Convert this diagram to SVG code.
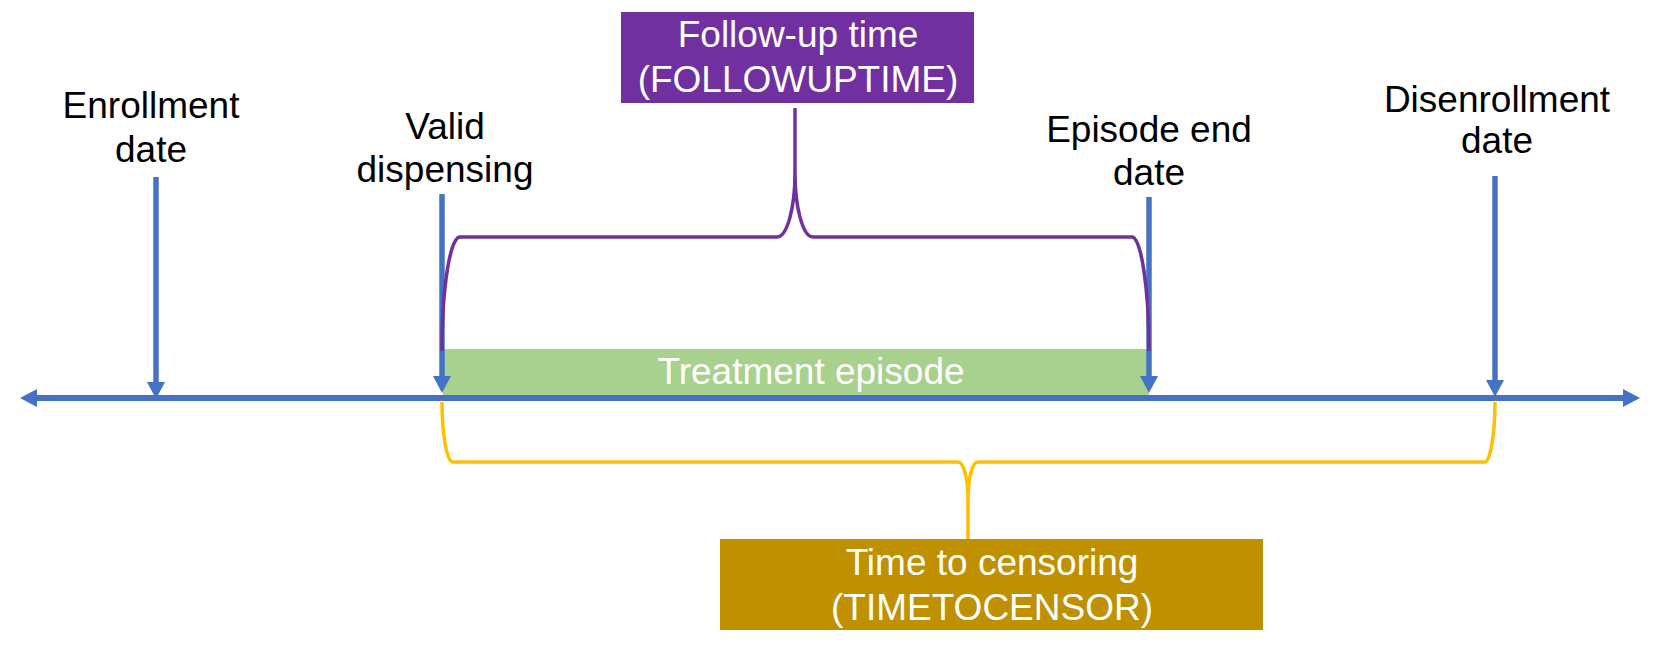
<svg xmlns="http://www.w3.org/2000/svg" width="1659" height="652" viewBox="0 0 1659 652">
<defs>
<style>
.lbl{font-family:"Liberation Sans",Arial,sans-serif;font-size:37px;fill:#000;text-anchor:middle}
.wlbl{font-family:"Liberation Sans",Arial,sans-serif;font-size:37px;fill:#fff;text-anchor:middle}
.axis{stroke:#4472C4;stroke-width:6;fill:none}
.tick{stroke:#4472C4;stroke-width:5.5;fill:none}
.fu{stroke:#7030A0;stroke-width:3.5;fill:none}
.tc{stroke:#FFC000;stroke-width:3.5;fill:none}
</style>
<marker id="ah" viewBox="0 0 17 18" markerUnits="userSpaceOnUse" markerWidth="17" markerHeight="18" refX="0" refY="9" orient="auto-start-reverse">
<path d="M0,0 L17,9 L0,18 Z" fill="#4472C4"/>
</marker>
</defs>
<g id="treatment-episode">
<rect x="443" y="349" width="706" height="46" fill="#A9D18E"/>
<text class="wlbl" x="811" y="384">Treatment episode</text>
</g>
<g id="connectors">
<line class="axis" x1="37" y1="398" x2="1623" y2="398" marker-start="url(#ah)" marker-end="url(#ah)"/>
<line class="tick" x1="156" y1="177" x2="156" y2="382" marker-end="url(#ah)"/>
<line class="tick" x1="442" y1="194" x2="442" y2="376" marker-end="url(#ah)"/>
<line class="tick" x1="1149" y1="197" x2="1149" y2="376" marker-end="url(#ah)"/>
<line class="tick" x1="1495" y1="176" x2="1495" y2="380" marker-end="url(#ah)"/>
<path class="fu" d="M442 351 C442 288 450 237 460 237 L777 237 C787 237 795 208 795 173 L795 108 M795 173 C795 208 803 237 813 237 L1132 237 C1141 237 1149 288 1149 351"/>
<path class="tc" d="M442 402 C442 435 447 462 453 462 L958 462 C964 462 968 479 968 500 L968 539 M968 500 C968 479 972 462 978 462 L1485 462 C1490 462 1495 435 1495 402"/>
</g>
<g id="enrollment">
<text class="lbl" x="151" y="118">Enrollment</text>
<text class="lbl" x="151" y="162">date</text>
</g>
<g id="valid-dispensing">
<text class="lbl" x="445" y="139">Valid</text>
<text class="lbl" x="445" y="182">dispensing</text>
</g>
<g id="episode-end">
<text class="lbl" x="1149" y="142">Episode end</text>
<text class="lbl" x="1149" y="185">date</text>
</g>
<g id="disenrollment">
<text class="lbl" x="1497" y="112">Disenrollment</text>
<text class="lbl" x="1497" y="153">date</text>
</g>
<g id="followup">
<rect x="621" y="12" width="353" height="91" fill="#7030A0"/>
<text class="wlbl" x="798" y="47">Follow-up time</text>
<text class="wlbl" x="798" y="92">(FOLLOWUPTIME)</text>
</g>
<g id="timetocensor">
<rect x="720" y="539" width="543" height="91" fill="#BF9000"/>
<text class="wlbl" x="992" y="575">Time to censoring</text>
<text class="wlbl" x="992" y="620">(TIMETOCENSOR)</text>
</g>
</svg>
